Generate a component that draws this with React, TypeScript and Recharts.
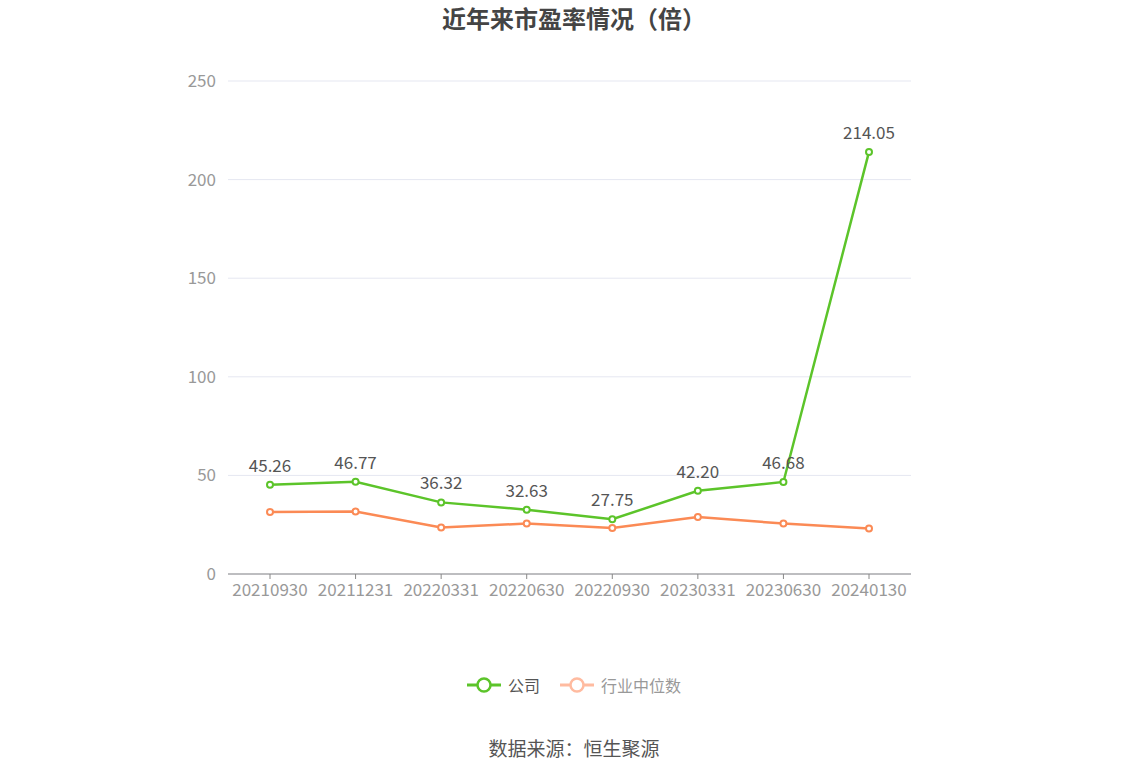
import React from 'react'
import {
  LineChart,
  Line,
  XAxis,
  YAxis,
  CartesianGrid,
  LabelList
} from 'recharts'

const periods = ['20210930', '20211231', '20220331', '20220630', '20220930', '20230331', '20230630', '20240130']
const companyPE = [45.26, 46.77, 36.32, 32.63, 27.75, 42.2, 46.68, 214.05]
const industryPE = [31.4, 31.7, 23.6, 25.6, 23.3, 28.9, 25.6, 23.1]
const yTicks = [0, 50, 100, 150, 200, 250]

const data = periods.map((p, i) => ({ period: p, company: companyPE[i], industry: industryPE[i] }))

const GREEN = '#5cc42a'
const ORANGE = '#fb8a55'
const FONT = '"Noto Sans CJK SC", "Noto Sans", sans-serif'

const LegendItem = ({ color, label, textColor }: { color: string; label: string; textColor: string }) => (
  <div style={{ display: 'flex', alignItems: 'center', gap: 7, color: textColor }}>
    <svg width={34} height={18}>
      <line x1={0} y1={9} x2={34} y2={9} stroke={color} strokeWidth={3} />
      <circle cx={17} cy={9} r={6.5} fill="#fff" stroke={color} strokeWidth={2.5} />
    </svg>
    {label}
  </div>
)

export default function App() {
  return (
    <div style={{ position: 'absolute', left: 0, top: 0, width: 1148, height: 776, background: '#fff', fontFamily: FONT }}>
      <div style={{ position: 'absolute', top: 0, width: '100%', textAlign: 'center', fontSize: 24, fontWeight: 'bold', color: '#444' }}>
        近年来市盈率情况（倍）
      </div>
      <LineChart
        width={1148}
        height={776}
        data={data}
        margin={{ top: 81, right: 237, left: 178, bottom: 168 }}
      >
        <CartesianGrid horizontal vertical={false} stroke="#e5e7f1" />
        <XAxis
          dataKey="period"
          padding={{ left: 42, right: 42 }}
          tick={{ fill: '#999', fontSize: 17 }}
          axisLine={{ stroke: '#888' }}
          tickLine={{ stroke: '#888' }}
          tickSize={5}
          tickMargin={5}
          interval={0}
          height={34}
        />
        <YAxis
          domain={[0, 250]}
          ticks={yTicks}
          width={50}
          axisLine={false}
          tickLine={false}
          tickSize={0}
          tickMargin={12}
          tick={{ fill: '#999', fontSize: 17 }}
        />
        <Line
          dataKey="company"
          stroke={GREEN}
          strokeWidth={2.5}
          dot={{ r: 3, fill: '#fff', stroke: GREEN, strokeWidth: 2 }}
          isAnimationActive={false}
        >
          <LabelList
            dataKey="company"
            position="top"
            offset={13}
            formatter={(v: number) => v.toFixed(2)}
            style={{ fill: '#555', fontSize: 17 }}
          />
        </Line>
        <Line
          dataKey="industry"
          stroke={ORANGE}
          strokeWidth={2.5}
          dot={{ r: 3, fill: '#fff', stroke: ORANGE, strokeWidth: 2 }}
          isAnimationActive={false}
        />
      </LineChart>
      <div style={{ position: 'absolute', top: 673, width: '100%', display: 'flex', justifyContent: 'center', gap: 20, fontSize: 16 }}>
        <LegendItem color={GREEN} label="公司" textColor="#555" />
        <LegendItem color="#ffbba0" label="行业中位数" textColor="#999" />
      </div>
      <div style={{ position: 'absolute', top: 734, width: '100%', textAlign: 'center', fontSize: 19, color: '#555' }}>
        数据来源：恒生聚源
      </div>
    </div>
  )
}
